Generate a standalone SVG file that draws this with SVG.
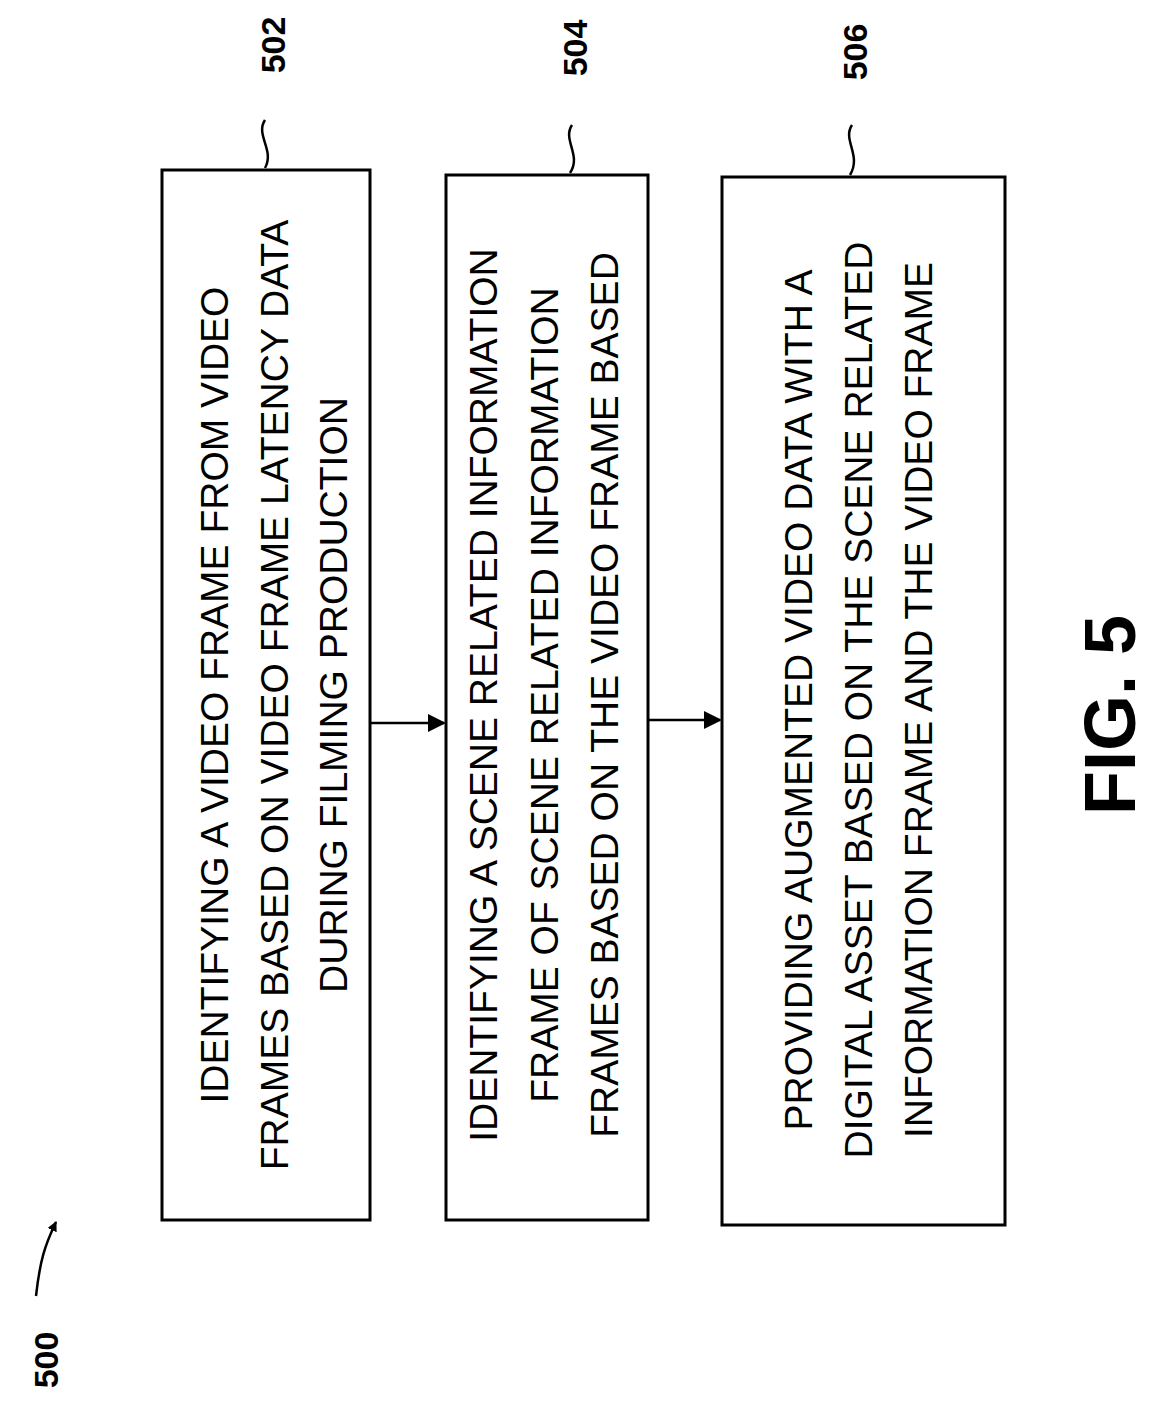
<svg xmlns="http://www.w3.org/2000/svg" width="1162" height="1417" viewBox="0 0 1162 1417">
<style>
.b{fill:#fff;stroke:#000;stroke-width:3}
.t{font-family:"Liberation Sans",Arial,sans-serif;font-size:39px;text-anchor:middle}
.l{font-family:"Liberation Sans",Arial,sans-serif;font-size:34px;font-weight:bold;text-anchor:middle}
.c{fill:none;stroke:#000;stroke-width:2.5}
</style>
<defs><marker id="a" markerWidth="10" markerHeight="10" refX="9" refY="5" orient="auto" markerUnits="userSpaceOnUse" viewBox="0 0 10 10"><path d="M0,0L10,5L0,10z"/></marker>
<marker id="a2" markerWidth="18" markerHeight="18" refX="16" refY="9" orient="auto" markerUnits="userSpaceOnUse" viewBox="0 0 18 18"><path d="M0,0L18,9L0,18z"/></marker></defs>
<rect width="1162" height="1417" fill="#fff"/>
<g id="n502"><rect class="b" x="162" y="170" width="208" height="1050"/>
<text class="t" transform="translate(228,695) rotate(-90)">IDENTIFYING A VIDEO FRAME FROM VIDEO</text>
<text class="t" transform="translate(288,695) rotate(-90)">FRAMES BASED ON VIDEO FRAME LATENCY DATA</text>
<text class="t" transform="translate(347,695) rotate(-90)">DURING FILMING PRODUCTION</text>
<text class="l" transform="translate(285,45) rotate(-90)">502</text>
<path class="c" d="M265,120 C255,135 275,150 265,168"/></g>
<g id="n504"><rect class="b" x="446" y="175" width="202" height="1045"/>
<text class="t" transform="translate(497,695) rotate(-90)">IDENTIFYING A SCENE RELATED INFORMATION</text>
<text class="t" transform="translate(558,695) rotate(-90)">FRAME OF SCENE RELATED INFORMATION</text>
<text class="t" transform="translate(618,695) rotate(-90)">FRAMES BASED ON THE VIDEO FRAME BASED</text>
<text class="l" transform="translate(587,48) rotate(-90)">504</text>
<path class="c" d="M572,125 C562,140 582,155 570,173"/></g>
<g id="n506"><rect class="b" x="722" y="177" width="283" height="1048"/>
<text class="t" transform="translate(812,700) rotate(-90)">PROVIDING AUGMENTED VIDEO DATA WITH A</text>
<text class="t" transform="translate(872,700) rotate(-90)">DIGITAL ASSET BASED ON THE SCENE RELATED</text>
<text class="t" transform="translate(932,700) rotate(-90)">INFORMATION FRAME AND THE VIDEO FRAME</text>
<text class="l" transform="translate(867,52) rotate(-90)">506</text>
<path class="c" d="M852,125 C842,140 862,155 850,175"/></g>
<g id="connectors">
<line class="c" x1="370" y1="723" x2="444" y2="723" marker-end="url(#a2)"/>
<line class="c" x1="648" y1="720" x2="720" y2="720" marker-end="url(#a2)"/>
<path class="c" d="M36,1296 C40,1260 45,1245 56,1222" marker-end="url(#a)"/>
</g>
<text class="l" transform="translate(58,1360) rotate(-90)">500</text>
<text style="font-family:'Liberation Sans',Arial,sans-serif;font-size:72px;font-weight:bold;text-anchor:middle" transform="translate(1135,715) rotate(-90)">FIG. 5</text>
</svg>
